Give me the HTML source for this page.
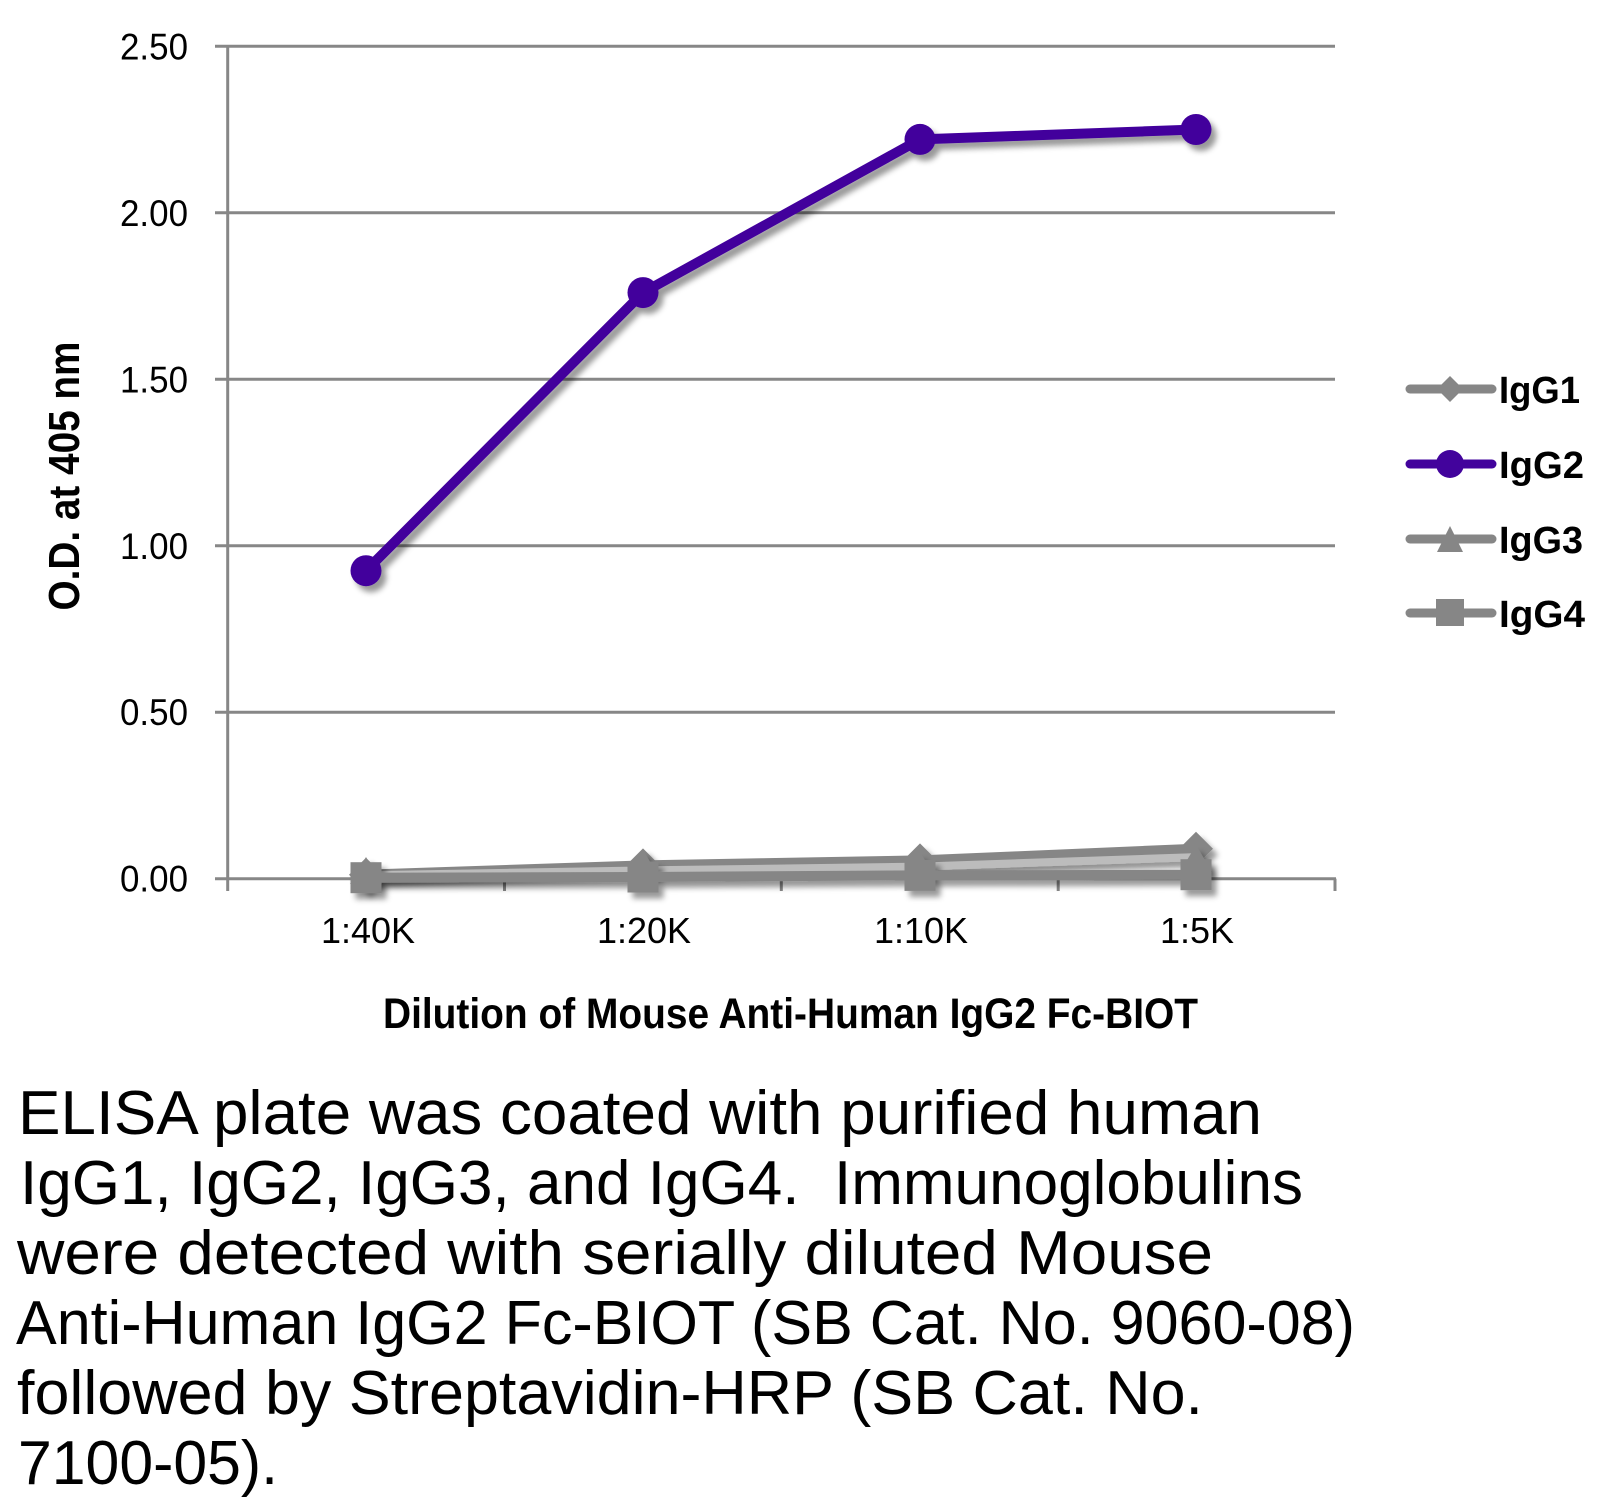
<!DOCTYPE html>
<html>
<head>
<meta charset="utf-8">
<style>
  html,body{margin:0;padding:0;background:#fff;}
  svg{display:block;}
  text{font-family:"Liberation Sans",sans-serif;}
</style>
</head>
<body>
<svg width="1618" height="1511" viewBox="0 0 1618 1511" xmlns="http://www.w3.org/2000/svg">
  <defs>
    <filter id="sh" filterUnits="userSpaceOnUse" x="0" y="0" width="1618" height="1511">
      <feDropShadow dx="5" dy="6" stdDeviation="3" flood-color="#000" flood-opacity="0.4"/>
    </filter>
  </defs>
  <rect width="1618" height="1511" fill="#fff"/>

  <!-- gridlines -->
  <g stroke="#878787" stroke-width="3" fill="none">
    <line x1="215" y1="46.3" x2="1335" y2="46.3"/>
    <line x1="215" y1="212.8" x2="1335" y2="212.8"/>
    <line x1="215" y1="379.3" x2="1335" y2="379.3"/>
    <line x1="215" y1="545.8" x2="1335" y2="545.8"/>
    <line x1="215" y1="712.2" x2="1335" y2="712.2"/>
    <line x1="215" y1="878.7" x2="1336" y2="878.7"/>
    <line x1="227.7" y1="45" x2="227.7" y2="891"/>
    <line x1="504.5" y1="878.7" x2="504.5" y2="891"/>
    <line x1="781.3" y1="878.7" x2="781.3" y2="891"/>
    <line x1="1058.2" y1="878.7" x2="1058.2" y2="891"/>
    <line x1="1335" y1="878.7" x2="1335" y2="891"/>
  </g>

  <!-- y tick labels -->
  <g font-size="37" fill="#000">
    <text x="120" y="59.3" textLength="68" lengthAdjust="spacingAndGlyphs">2.50</text>
    <text x="120" y="225.8" textLength="68" lengthAdjust="spacingAndGlyphs">2.00</text>
    <text x="120" y="392.3" textLength="68" lengthAdjust="spacingAndGlyphs">1.50</text>
    <text x="120" y="558.8" textLength="68" lengthAdjust="spacingAndGlyphs">1.00</text>
    <text x="120" y="725.2" textLength="68" lengthAdjust="spacingAndGlyphs">0.50</text>
    <text x="120" y="891.7" textLength="68" lengthAdjust="spacingAndGlyphs">0.00</text>
  </g>

  <!-- x tick labels -->
  <g font-size="36" fill="#000" text-anchor="middle">
    <text x="368" y="943">1:40K</text>
    <text x="644" y="943">1:20K</text>
    <text x="921" y="943">1:10K</text>
    <text x="1197" y="943">1:5K</text>
  </g>

  <!-- axis titles -->
  <text x="383" y="1028" font-size="43" font-weight="bold" fill="#000" textLength="815" lengthAdjust="spacingAndGlyphs">Dilution of Mouse Anti-Human IgG2 Fc-BIOT</text>
  <text transform="translate(79,476) rotate(-90)" x="-134.5" y="0" font-size="44" font-weight="bold" fill="#000" textLength="269" lengthAdjust="spacingAndGlyphs">O.D. at 405 nm</text>

  <!-- IgG1 (diamond) -->
  <g filter="url(#sh)">
    <polyline points="366,874.7 643,865.4 920,860.4 1196,848.7" fill="none" stroke="#868686" stroke-width="10" stroke-linejoin="round"/>
    <g fill="#868686">
      <polygon points="366,857.7 383,874.7 366,891.7 349,874.7"/>
      <polygon points="643,848.4 660,865.4 643,882.4 626,865.4"/>
      <polygon points="920,843.4 937,860.4 920,877.4 903,860.4"/>
      <polygon points="1196,831.7 1213,848.7 1196,865.7 1179,848.7"/>
    </g>
  </g>

  <!-- IgG2 (circle) -->
  <g filter="url(#sh)">
    <polyline points="366,570.7 643,292.6 920,139.4 1196,129.5" fill="none" stroke="#42039c" stroke-width="10" stroke-linejoin="round"/>
    <g fill="#42039c">
      <circle cx="366" cy="570.7" r="15.5"/>
      <circle cx="643" cy="292.6" r="15.5"/>
      <circle cx="920" cy="139.4" r="15.5"/>
      <circle cx="1196" cy="129.5" r="15.5"/>
    </g>
  </g>

  <!-- IgG3 (triangle) -->
  <g filter="url(#sh)">
    <polyline points="366,875.3 643,870.4 920,866.6 1196,857.1" fill="none" stroke="#bcbcbc" stroke-width="8" stroke-linejoin="round"/>
    <g fill="#868686">
      <polygon points="366,857 382,884 350,884"/>
      <polygon points="643,850 659,877 627,877"/>
      <polygon points="920,852 936,879 904,879"/>
      <polygon points="1196,845 1212,872 1180,872"/>
    </g>
  </g>

  <!-- IgG4 (square) -->
  <g filter="url(#sh)">
    <polyline points="366,877.7 643,877 920,875.4 1196,874.7" fill="none" stroke="#868686" stroke-width="10" stroke-linejoin="round"/>
    <g fill="#868686">
      <rect x="350.5" y="862.2" width="31" height="31"/>
      <rect x="627.5" y="861.5" width="31" height="31"/>
      <rect x="904.5" y="859.9" width="31" height="31"/>
      <rect x="1180.5" y="859.2" width="31" height="31"/>
    </g>
  </g>

  <!-- legend -->
  <g stroke-width="9" stroke-linecap="round">
    <line x1="1410" y1="389" x2="1492" y2="389" stroke="#868686"/>
    <line x1="1410" y1="464" x2="1492" y2="464" stroke="#42039c"/>
    <line x1="1410" y1="539" x2="1492" y2="539" stroke="#868686"/>
    <line x1="1410" y1="613" x2="1492" y2="613" stroke="#868686"/>
  </g>
  <polygon points="1450,376 1463,389 1450,402 1437,389" fill="#868686"/>
  <circle cx="1450" cy="464" r="14" fill="#42039c"/>
  <polygon points="1450,526 1463,552 1437,552" fill="#868686"/>
  <rect x="1436" y="599" width="28" height="27" fill="#868686"/>
  <g font-size="38" font-weight="bold" fill="#000">
    <text x="1499" y="403" textLength="81" lengthAdjust="spacingAndGlyphs">IgG1</text>
    <text x="1499" y="478" textLength="85" lengthAdjust="spacingAndGlyphs">IgG2</text>
    <text x="1499" y="553" textLength="84" lengthAdjust="spacingAndGlyphs">IgG3</text>
    <text x="1499" y="627" textLength="86" lengthAdjust="spacingAndGlyphs">IgG4</text>
  </g>

  <!-- caption -->
  <g font-size="62" fill="#000">
    <text x="18" y="1134" textLength="1244" lengthAdjust="spacingAndGlyphs">ELISA plate was coated with purified human</text>
    <text x="20" y="1204" textLength="1283" lengthAdjust="spacingAndGlyphs">IgG1, IgG2, IgG3, and IgG4.&#160; Immunoglobulins</text>
    <text x="17" y="1274" textLength="1196" lengthAdjust="spacingAndGlyphs">were detected with serially diluted Mouse</text>
    <text x="16" y="1344" textLength="1339" lengthAdjust="spacingAndGlyphs">Anti-Human IgG2 Fc-BIOT (SB Cat. No. 9060-08)</text>
    <text x="17" y="1414" textLength="1186" lengthAdjust="spacingAndGlyphs">followed by Streptavidin-HRP (SB Cat. No.</text>
    <text x="18" y="1484" textLength="260" lengthAdjust="spacingAndGlyphs">7100-05).</text>
  </g>
</svg>
</body>
</html>
